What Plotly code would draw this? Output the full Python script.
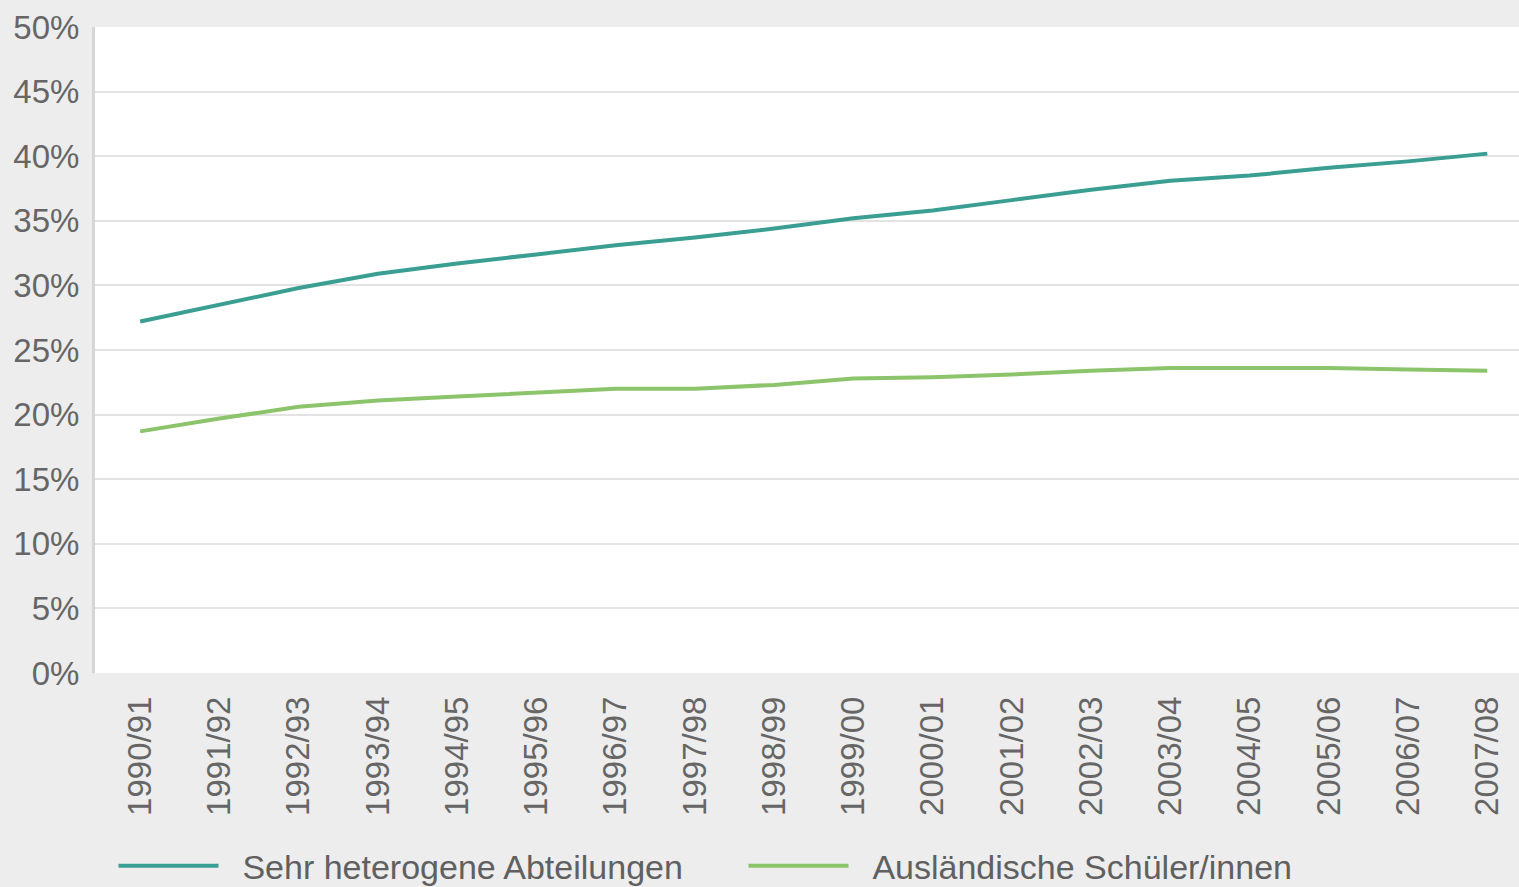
import plotly.graph_objects as go

years = ["1990/91", "1991/92", "1992/93", "1993/94", "1994/95", "1995/96",
         "1996/97", "1997/98", "1998/99", "1999/00", "2000/01", "2001/02",
         "2002/03", "2003/04", "2004/05", "2005/06", "2006/07", "2007/08"]

heterogen = [27.2, 28.5, 29.8, 30.9, 31.7, 32.4, 33.1, 33.7, 34.4, 35.2,
             35.8, 36.6, 37.4, 38.1, 38.5, 39.1, 39.6, 40.2]
auslaend = [18.7, 19.7, 20.6, 21.1, 21.4, 21.7, 22.0, 22.0, 22.3, 22.8,
            22.9, 23.1, 23.4, 23.6, 23.6, 23.6, 23.5, 23.4]

y_ticks = [0, 5, 10, 15, 20, 25, 30, 35, 40, 45, 50]
y_labels = [f"{v}%" for v in y_ticks]

names = ["Sehr heterogene Abteilungen", "Ausländische Schüler/innen"]
colors = ["#3a9e92", "#8cc46c"]

FONT = "Liberation Sans, Arial, sans-serif"
PAD = "\u00a0\u00a0"

fig = go.Figure()
fig.add_trace(go.Scatter(x=years, y=heterogen, mode="lines", name=PAD + names[0],
                         line=dict(color=colors[0], width=4)))
fig.add_trace(go.Scatter(x=years, y=auslaend, mode="lines", name=PAD + names[1],
                         line=dict(color=colors[1], width=4)))

fig.update_layout(
    width=1519, height=887,
    margin=dict(l=95, r=0, t=27, b=214, autoexpand=False),
    paper_bgcolor="#ededed",
    plot_bgcolor="#ffffff",
    font=dict(family=FONT, color="#666666", size=33),
    showlegend=True,
    legend=dict(orientation="h", x=0.013, xanchor="left", y=-0.299, yanchor="middle",
                bgcolor="rgba(0,0,0,0)", font=dict(size=34, color="#606060"),
                entrywidth=515, entrywidthmode="pixels", itemwidth=100),
    xaxis=dict(type="category", range=[-0.57, 17.4], tickangle=-90,
               showgrid=False, zeroline=False, showline=False, ticks="",
               automargin=False, ticklabelstandoff=16,
               tickfont=dict(size=33, color="#666666")),
    yaxis=dict(range=[0, 50], tickvals=y_ticks, ticktext=y_labels,
               showgrid=True, gridcolor="#e3e3e3", gridwidth=2,
               zeroline=False, showline=True, linecolor="#d6d6d6", linewidth=3,
               ticks="", ticklabelstandoff=6, automargin=False,
               tickfont=dict(size=33, color="#666666")),
)

fig.write_html("out.html")
